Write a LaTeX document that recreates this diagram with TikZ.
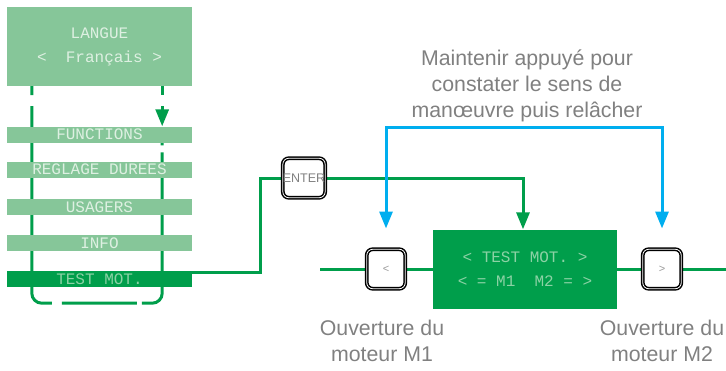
\documentclass[tikz,border=0pt]{standalone}
\usepackage{fontspec}
\setmainfont{Liberation Sans}
\newfontfamily\lcdfont{Liberation Mono}
\usetikzlibrary{arrows.meta,backgrounds}
\definecolor{gdark}{RGB}{0,158,75}
\definecolor{glight}{RGB}{134,198,153}
\definecolor{lcdlight}{RGB}{222,240,226}
\definecolor{lcddark}{RGB}{140,210,165}
\definecolor{bcyan}{RGB}{0,174,239}
\definecolor{tgray}{RGB}{128,128,128}
\begin{document}
\begin{tikzpicture}[x=1pt,y=-1pt,>={Triangle[length=17pt,width=13pt]},
  menubar/.style={fill=glight,minimum width=185pt,minimum height=16pt,inner sep=0pt,font=\lcdfont\fontsize{16}{16}\selectfont,text=lcdlight},
  lcdbox/.style={minimum width=185pt,minimum height=79pt,align=center,font=\lcdfont\fontsize{16}{24}\selectfont},
  gline/.style={gdark,line width=3pt},
  bline/.style={bcyan,line width=3pt},
  btn/.style={draw=black,line width=1.5pt,double=white,double distance=0.8pt,rounded corners=6pt,fill=white,minimum width=38.5pt,minimum height=39.5pt,inner sep=0pt,text=tgray},
  note/.style={text=tgray,align=center,font=\fontsize{21.3}{26}\selectfont}]
  \useasboundingbox (0,0) rectangle (726,370);
  \node[lcdbox,fill=glight,text=lcdlight] (langue) at (99.5,46.5) {LANGUE\\<~~Français~>};
  \node[menubar] (bar1) at (99.5,134.5) {FUNCTIONS};
  \node[menubar] (bar2) at (99.5,169.5) {REGLAGE DUREES};
  \node[menubar] (bar3) at (99.5,207) {USAGERS};
  \node[menubar] (bar4) at (99.5,243) {INFO};
  \node[menubar,fill=gdark,text=lcddark] (bar5) at (99.5,279) {TEST MOT.};
  \node[btn] (enter) at (304,178) {\fontsize{12.5}{12.5}\selectfont ENTER};
  \node[lcdbox,minimum width=184pt,fill=gdark,text=lcddark] (display) at (525,269) {<~TEST~MOT.~>\\<~=~M1~~M2~=~>};
  \node[btn,text=tgray!80] (btnl) at (386,269) {\fontsize{11}{11}\selectfont <};
  \node[btn,text=tgray!80] (btnr) at (662,269) {\fontsize{11}{11}\selectfont >};
  \node[note] (capl) at (382,340.5) {Ouverture du\\moteur M1};
  \node[note] (capr) at (662,340.5) {Ouverture du\\moteur M2};
  \node[note,anchor=south,inner sep=5pt] (hold) at (527,127) {Maintenir appuyé pour\\constater le sens de\\manœuvre puis relâcher};
  \coordinate (ll) at ([xshift=25pt]langue.south west);
  \coordinate (lr) at ([xshift=-30pt]langue.south east);
  \coordinate (lend) at (320,269);
  \coordinate (rend) at (726,269);
  \begin{scope}[on background layer]
    \draw[gline,rounded corners=10pt,dash pattern=on 9pt off 11pt on 212.7pt off 10pt on 75pt off 5pt on 166.7pt off 7pt on 20pt] (ll) -- ++(0,217) -| (lr |- bar1.south);
    \draw[gline,dash pattern=on 9pt off 11pt on 40pt,->] (lr) -- (lr |- bar1.north);
    \draw[gline] ([yshift=-2pt]bar5.north east) -- ++(68,0) |- (enter.west);
    \draw[gline,->] (enter.east) -| ([xshift=-2pt]display.north);
    \draw[gline] (lend) -- (btnl.west) (btnl.east) -- (display.west) (display.east) -- (btnr.west) (btnr.east) -- (rend);
    \draw[bline,<->] ([yshift=20pt]btnl.north) |- (hold.south) -| ([yshift=20pt]btnr.north);
  \end{scope}
\end{tikzpicture}
\end{document}
